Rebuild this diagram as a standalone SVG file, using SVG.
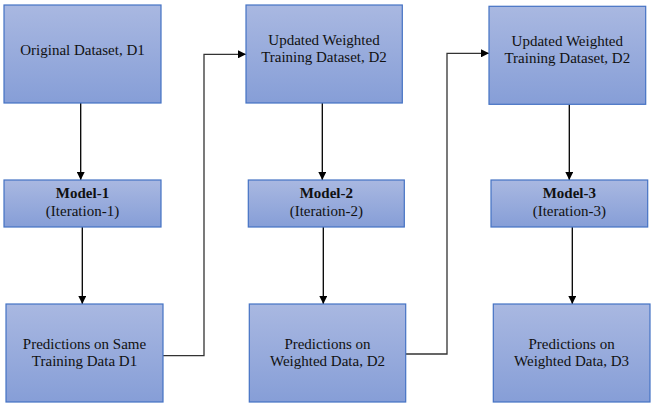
<svg xmlns="http://www.w3.org/2000/svg" width="657" height="411" viewBox="0 0 657 411">
<defs>
<linearGradient id="g" x1="0" y1="0" x2="0" y2="1">
<stop offset="0" stop-color="#a9b8e1"/>
<stop offset="1" stop-color="#869ed7"/>
</linearGradient>
<marker id="ah" viewBox="0 0 10 10" refX="10" refY="5" markerWidth="8" markerHeight="8" markerUnits="userSpaceOnUse" orient="auto">
<path d="M0,0 L10,5 L0,10 z" fill="#000"/>
</marker>
<style>
.box{fill:url(#g);stroke:#4472c4;stroke-width:1.2}
.t{font-family:"Liberation Serif","DejaVu Serif",serif;font-size:15px;fill:#111;text-anchor:middle}
.b{font-weight:bold}
.c{fill:none;stroke:#000;stroke-width:1.3;marker-end:url(#ah)}
.e{fill:none;stroke:#333;stroke-width:1.3;marker-end:url(#ah)}
</style>
</defs>
<rect width="657" height="411" fill="#fff"/>
<g id="connectors">
<path class="c" d="M80.7,103 V180"/>
<path class="c" d="M82.3,227 V304"/>
<path class="e" d="M163,355.7 H204 V54.3 H246"/>
<path class="c" d="M322.3,103 V180"/>
<path class="c" d="M323.3,227 V304"/>
<path class="e" d="M405.7,354 H447 V53.3 H489"/>
<path class="c" d="M569.3,104.3 V180"/>
<path class="c" d="M572.3,227 V304"/>
</g>
<g id="n1"><rect class="box" x="4" y="5" width="157" height="98"/><text class="t" x="82.5" y="55">Original Dataset, D1</text></g>
<g id="n2"><rect class="box" x="4" y="180" width="157" height="47"/><text class="t b" x="82.5" y="198">Model-1</text><text class="t" x="82.5" y="216">(Iteration-1)</text></g>
<g id="n3"><rect class="box" x="6" y="304" width="157" height="98"/><text class="t" x="84.5" y="349">Predictions on Same</text><text class="t" x="84.5" y="366">Training Data D1</text></g>
<g id="n4"><rect class="box" x="246" y="5" width="156.3" height="98"/><text class="t" x="324" y="45">Updated Weighted</text><text class="t" x="324" y="62">Training Dataset, D2</text></g>
<g id="n5"><rect class="box" x="248.3" y="180" width="156" height="47"/><text class="t b" x="326.3" y="198">Model-2</text><text class="t" x="326.3" y="216">(Iteration-2)</text></g>
<g id="n6"><rect class="box" x="249.3" y="304" width="156.4" height="98"/><text class="t" x="327.5" y="349">Predictions on</text><text class="t" x="327.5" y="366">Weighted Data, D2</text></g>
<g id="n7"><rect class="box" x="489" y="6.3" width="156.7" height="98"/><text class="t" x="567.3" y="46">Updated Weighted</text><text class="t" x="567.3" y="63">Training Dataset, D2</text></g>
<g id="n8"><rect class="box" x="491" y="180" width="156.7" height="47"/><text class="t b" x="569.3" y="198">Model-3</text><text class="t" x="569.3" y="216">(Iteration-3)</text></g>
<g id="n9"><rect class="box" x="493.3" y="304" width="156.7" height="98"/><text class="t" x="571.6" y="349">Predictions on</text><text class="t" x="571.6" y="366">Weighted Data, D3</text></g>
</svg>
